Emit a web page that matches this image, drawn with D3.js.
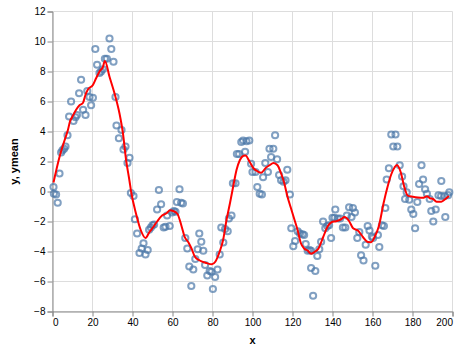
<!DOCTYPE html>
<html>
<head>
<meta charset="utf-8">
<script src="https://cdn.jsdelivr.net/npm/d3@7"></script>
<style>
  body { margin: 0; background: #fff; }
  svg { display: block; font-family: "Liberation Sans", Arial, sans-serif; }
</style>
</head>
<body>
<svg id="chart" width="458" height="351"></svg>
<script>
// Scatter points (x, y)
const pointX = [0.5,0.7,1.8,2.6,3.5,4.3,5.0,5.8,6.5,7.5,8.3,9.3,10.5,11.5,12.2,13.3,14.3,15.3,16.5,17.4,18.5,19.3,20.2,21.4,22.3,23.5,24.3,25.2,26.2,27.2,28.5,29.4,30.5,31.5,32.0,33.2,34.5,35.5,36.5,37.5,38.5,39.2,40.5,41.2,42.3,43.5,44.6,45.5,46.5,47.6,48.3,49.2,50.0,50.8,52.3,53.2,54.3,55.6,56.5,57.3,58.6,59.8,60.7,61.5,62.2,63.5,64.3,65.2,66.4,67.4,68.4,69.4,70.4,71.4,72.6,73.4,74.4,75.4,76.3,77.4,78.6,79.5,80.2,81.3,82.5,83.6,84.4,85.4,86.3,87.6,88.2,89.5,90.2,91.5,92.2,93.3,94.4,95.3,96.3,97.0,98.4,99.3,100.0,101.5,102.4,103.6,104.7,105.3,106.4,107.7,108.5,109.3,110.4,111.3,112.3,113.3,114.3,115.5,116.5,117.4,118.7,119.4,120.4,121.3,122.6,123.7,125.0,125.8,126.6,127.6,128.5,129.3,129.3,130.3,131.4,132.4,133.4,134.3,135.3,136.4,137.4,138.3,139.3,140.0,141.0,141.4,142.6,143.8,145.2,146.4,147.2,148.3,149.5,150.2,151.2,152.4,153.4,154.3,155.5,156.6,157.6,158.5,159.7,160.3,161.4,162.7,163.4,164.7,165.7,166.4,167.1,168.2,169.4,170.4,171.5,172.4,173.6,174.8,175.5,176.3,177.1,178.4,179.4,180.4,181.3,182.4,183.3,184.5,185.3,186.3,187.2,188.6,189.4,190.4,191.6,193.0,194.3,194.4,196.0,196.4,197.8,198.4];
const pointY = [0.3,-0.15,-0.2,-0.75,1.2,2.6,2.75,2.85,3.0,3.75,5.0,6.0,4.7,4.95,5.1,6.55,7.45,5.45,5.1,6.7,6.3,5.75,6.25,9.5,8.45,7.9,8.0,8.15,8.85,8.85,10.2,9.5,8.65,6.3,4.4,3.55,4.1,2.8,3.0,1.9,2.25,-0.1,-0.3,-1.85,-2.8,-4.1,-3.8,-3.45,-4.2,-3.9,-2.55,-2.4,-2.25,-2.2,-1.2,0.1,-0.85,-2.4,-2.35,-1.6,-2.3,-1.4,-1.3,-1.35,-0.7,0.15,-0.75,-0.8,-3.1,-3.8,-5.0,-6.3,-5.2,-4.5,-3.85,-2.8,-3.35,-3.95,-4.9,-5.6,-5.3,-5.35,-6.5,-5.7,-5.2,-4.2,-2.4,-3.4,-2.5,-2.65,-1.8,-1.6,0.55,0.55,2.5,2.5,3.3,3.4,2.65,3.35,3.4,1.85,1.3,1.3,0.3,-0.15,-0.2,0.95,1.9,1.3,2.85,2.3,2.85,3.75,2.15,1.1,0.75,0.65,0.75,1.45,-0.2,-2.45,-3.65,-3.3,-2.65,-2.8,-2.85,-2.9,-3.5,-3.95,-3.9,-3.95,-5.1,-6.95,-5.3,-4.3,-3.85,-3.35,-2.0,-2.45,-2.3,-2.25,-3.1,-1.75,-1.75,-1.2,-1.8,-1.8,-2.4,-2.4,-1.6,-1.05,-1.7,-1.1,-1.4,-3.1,-2.7,-4.25,-4.6,-3.55,-2.3,-2.6,-3.0,-3.1,-4.95,-2.9,-3.7,-2.25,-2.3,-1.1,0.8,1.55,3.8,3.0,3.8,3.0,1.75,1.0,0.35,-0.5,-0.05,-0.55,-1.2,-1.5,-2.45,-0.7,0.5,1.75,0.8,0.15,-0.15,-0.5,-1.3,-2.0,-1.2,-0.25,-0.3,0.7,-0.3,-1.7,-0.25,-0.05];

// Running mean line (x, ymean)
const meanX = [0.5,3.5,6,7.7,8.8,9.8,11.8,13.5,15.2,16.5,17.7,20.2,21.8,23.5,25.2,26.2,28.5,31,33.5,35.2,36.8,38.5,39.3,41.8,44.2,46.5,48.5,50.5,52.3,54.8,57,58.8,60.3,62.5,64.5,66,68,69.5,71.2,73.6,77,79.7,81.4,83.6,85.3,87,88.7,90.3,92,93.7,95.5,96.5,98.5,100.5,102.5,104.3,106.7,108.5,110.5,112.5,114.3,115.8,117.5,119.2,120.8,122.5,124.2,125.8,127.7,129.3,130.8,133,135.3,137.7,139.5,141.8,144.3,146,148.2,150.3,152.7,155.3,157.7,159.3,161,163.2,165.5,167.5,169.4,171,172.2,174.2,175.8,177.6,180.2,182.7,185.2,187.2,188.7,190.3,192,194.4,196.5,198.2];
const meanY = [0.6,2.3,3.4,4.1,4.7,4.95,5.45,5.75,5.9,6.45,6.8,7.1,7.55,8.0,8.3,8.7,7.65,6.55,5.2,3.9,2.1,0.7,0.0,-1.5,-2.6,-3.1,-2.7,-2.35,-2.0,-1.6,-1.45,-1.25,-1.3,-1.5,-2.3,-3.0,-3.4,-3.8,-4.35,-4.6,-4.77,-4.85,-4.68,-4.0,-3.23,-1.9,-0.8,0.3,1.43,2.1,2.38,2.4,2.0,1.55,1.35,1.25,1.58,1.75,1.9,1.75,1.2,0.6,-0.35,-1.1,-1.8,-2.55,-3.45,-3.8,-3.95,-4.15,-4.05,-3.8,-3.05,-2.3,-2.05,-1.98,-1.85,-1.7,-1.95,-2.45,-2.6,-3.05,-3.37,-3.38,-3.05,-2.3,-0.8,0.3,1.15,1.6,1.77,1.25,0.35,-0.27,-0.35,-0.4,-0.42,-0.32,-0.45,-0.5,-0.68,-0.68,-0.5,-0.3];

const xTicks = [0,20,40,60,80,100,120,140,160,180,200];
const yTicks = [-8,-6,-4,-2,0,2,4,6,8,10,12];

const margin = {left: 52.5, top: 11.5};
const W = 400, H = 300;

const svg = d3.select("#chart");
const g = svg.append("g").attr("transform", `translate(${margin.left},${margin.top})`);

const x = d3.scaleLinear().domain([0, 200]).range([0, W]);
const y = d3.scaleLinear().domain([-8, 12]).range([H, 0]);

// grid
g.append("g").selectAll("line").data(xTicks).join("line")
  .attr("x1", d => x(d)).attr("x2", d => x(d)).attr("y1", 0).attr("y2", H)
  .attr("stroke", "#ddd").attr("stroke-width", 1);
g.append("g").selectAll("line").data(yTicks).join("line")
  .attr("y1", d => y(d)).attr("y2", d => y(d)).attr("x1", 0).attr("x2", W)
  .attr("stroke", "#ddd").attr("stroke-width", 1);

// axes
const xAxis = g.append("g").attr("transform", `translate(0,${H})`)
  .call(d3.axisBottom(x).tickValues(xTicks).tickSize(5).tickPadding(2).tickFormat(d3.format("d")));
const yAxis = g.append("g")
  .call(d3.axisLeft(y).tickValues(yTicks).tickSize(5).tickPadding(2).tickFormat(d3.format("d")));
[xAxis, yAxis].forEach(a => {
  a.select(".domain").attr("stroke", "#888");
  a.selectAll(".tick line").attr("stroke", "#888");
  a.selectAll(".tick text").attr("fill", "#000").attr("font-size", 10)
    .attr("font-family", "Liberation Sans, Arial, sans-serif");
});
// flush first/last x labels (as in the reference)
xAxis.selectAll(".tick text")
  .attr("text-anchor", d => d === xTicks[0] ? "start" : (d === xTicks[xTicks.length - 1] ? "end" : "middle"));

// points
g.append("g").selectAll("circle").data(pointX.map((d, i) => [d, pointY[i]])).join("circle")
  .attr("cx", d => x(d[0])).attr("cy", d => y(d[1])).attr("r", 3.1)
  .attr("fill", "none").attr("stroke", "#4c78a8").attr("stroke-width", 2).attr("stroke-opacity", 0.7);

// mean line
g.append("path")
  .datum(meanX.map((d, i) => [d, meanY[i]]))
  .attr("fill", "none").attr("stroke", "red").attr("stroke-width", 2)
  .attr("d", d3.line().x(d => x(d[0])).y(d => y(d[1])).curve(d3.curveMonotoneX));

// titles
svg.append("text").attr("x", margin.left + W / 2).attr("y", 343.5)
  .attr("text-anchor", "middle").attr("font-weight", "bold").attr("font-size", 11).text("x");
svg.append("text").attr("transform", `translate(18,${margin.top + H / 2}) rotate(-90)`)
  .attr("text-anchor", "middle").attr("font-weight", "bold").attr("font-size", 11).text("y, ymean");
</script>
</body>
</html>
